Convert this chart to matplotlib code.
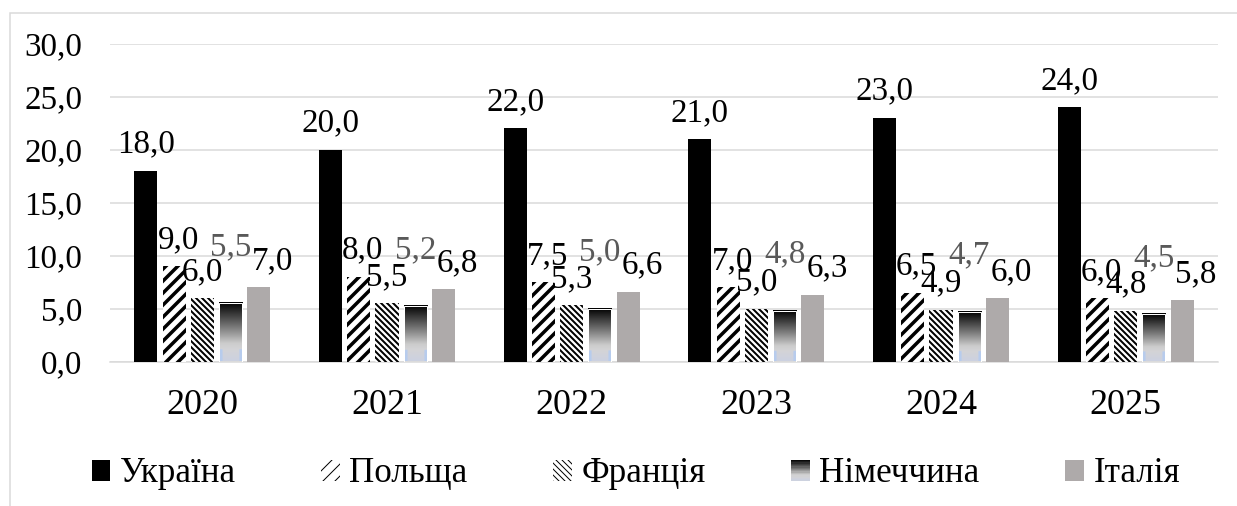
import numpy as np
import matplotlib
matplotlib.use('Agg')
import matplotlib.pyplot as plt
from matplotlib.patches import Rectangle
from matplotlib.colors import LinearSegmentedColormap
from matplotlib.legend_handler import HandlerBase

plt.rcParams['font.family'] = ['Liberation Serif', 'DejaVu Serif']

# ---- дані ----
years = ['2020', '2021', '2022', '2023', '2024', '2025']
countries = ['Україна', 'Польща', 'Франція', 'Німеччина', 'Італія']
ukraine = [18.0, 20.0, 22.0, 21.0, 23.0, 24.0]
poland = [9.0, 8.0, 7.5, 7.0, 6.5, 6.0]
france = [6.0, 5.5, 5.3, 5.0, 4.9, 4.8]
germany = [5.5, 5.2, 5.0, 4.8, 4.7, 4.5]
italy = [7.0, 6.8, 6.6, 6.3, 6.0, 5.8]
yticks = [0, 5, 10, 15, 20, 25, 30]

# градієнт для Німеччини (знизу -> вгору)
grad_cmap = LinearSegmentedColormap.from_list('de', [
    (0.00, (0.80, 0.82, 0.88)),
    (0.20, (0.83, 0.83, 0.84)),
    (0.30, (0.80, 0.80, 0.80)),
    (0.60, (0.45, 0.45, 0.45)),
    (1.00, (0.00, 0.00, 0.00)),
])


class GradientHandler(HandlerBase):
    def create_artists(self, legend, orig_handle, xdescent, ydescent,
                       width, height, fontsize, trans):
        arts = []
        n = 16
        for k in range(n):
            c = grad_cmap((k + 0.5) / n)
            arts.append(Rectangle((-xdescent, -ydescent + height * k / n), width, height / n,
                                  facecolor=c, edgecolor='none', transform=trans))
        return arts


DPI = 72
fig = plt.figure(figsize=(1237 / DPI, 506 / DPI), dpi=DPI)
ax = fig.add_axes([110 / 1237, 144.5 / 506, 1108 / 1237, 318 / 506])

x = np.arange(len(years))
step = 0.153
width = 0.125
fs_lbl = 33
fs_y = 33
fs_year = 36
fs_leg = 35

# Україна
b_ua = ax.bar(x - 2 * step, ukraine, width, color='black', zorder=3)
# Польща
b_pl = ax.bar(x - step, poland, width, facecolor='white', edgecolor='black', linewidth=0,
              hatch='//', hatch_linewidth=3.5, zorder=3)
# Франція
b_fr = ax.bar(x, france, width, facecolor='white', edgecolor='black', linewidth=0,
              hatch='\\\\\\\\', hatch_linewidth=2.0, zorder=3)
# Німеччина (градієнт)
b_de = ax.bar(x + step, germany, width, color='none', edgecolor='white', linewidth=1, zorder=4)
# Італія
b_it = ax.bar(x + 2 * step, italy, width, color='#aeaaaa', zorder=3)

# градієнтна заливка
grad = np.linspace(0, 1, 200).reshape(-1, 1)
img = grad_cmap(np.repeat(grad, 20, axis=1))
img[:40, :3, :3] = (0.72, 0.80, 0.93)
img[:40, -3:, :3] = (0.72, 0.80, 0.93)
for rect in b_de:
    x0 = rect.get_x()
    h = rect.get_height()
    ax.imshow(img, extent=(x0, x0 + rect.get_width(), 0, h), origin='lower',
              aspect='auto', zorder=3, interpolation='bilinear')

# підписи значень
label_style = [
    (ukraine, 0, 18, 'black'),
    (poland, 4, 18, 'black'),
    (france, 0, 18, 'black'),
    (germany, 0, 48, '#595959'),
    (italy, 14, 18, 'black'),
]
for i, (vals, dx, dy, col) in enumerate(label_style):
    for j, v in enumerate(vals):
        ax.annotate(f'{v:.1f}'.replace('.', ','), xy=(x[j] + (i - 2) * step, v),
                    xytext=(dx, dy), textcoords='offset points',
                    ha='center', va='baseline', fontsize=fs_lbl, color=col, zorder=6)

ax.set_xlim(-0.5, len(years) - 0.5)
ax.set_ylim(0, 30)
ax.set_yticks(yticks)
ax.set_yticklabels([f'{t:.1f}'.replace('.', ',') for t in yticks], fontsize=fs_y)
ax.set_xticks(x)
ax.set_xticklabels(years, fontsize=fs_year)
ax.tick_params(axis='y', length=0, pad=28)
ax.tick_params(axis='x', length=0, pad=28)
ax.yaxis.grid(True, color='#d9d9d9', linewidth=1.5, zorder=0)
ax.set_axisbelow(True)
for s in ['top', 'right', 'left']:
    ax.spines[s].set_visible(False)
ax.spines['bottom'].set_color('#d9d9d9')
ax.spines['bottom'].set_linewidth(1.5)

# рамка
fig.patches.append(Rectangle((10 / 1237, -0.1), 1.2, (506 - 13) / 506 + 0.1,
                             transform=fig.transFigure, facecolor='none',
                             edgecolor='#d9d9d9', linewidth=1.5, clip_on=False))

handles = [b_ua, b_pl, b_fr, Rectangle((0, 0), 1, 1), b_it]
leg = fig.legend(handles, countries, loc='center', bbox_to_anchor=(0.514, 32 / 506),
                 ncol=5, frameon=False, fontsize=fs_leg, handlelength=0.54, handleheight=0.54,
                 handletextpad=0.26, columnspacing=2.45,
                 handler_map={Rectangle: GradientHandler()})

fig.savefig('out.png', dpi=DPI)
